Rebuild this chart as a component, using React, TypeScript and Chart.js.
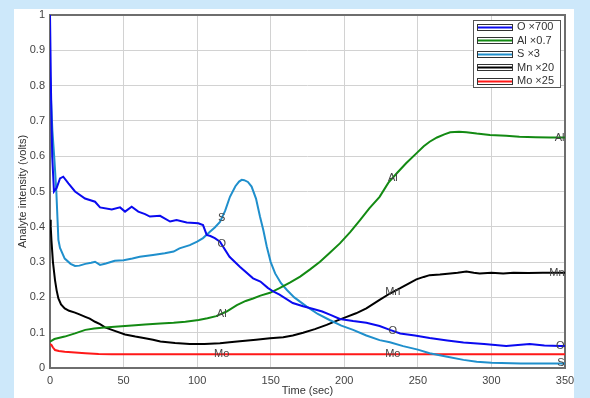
import React, { useEffect, useRef } from "react";
import { Chart, registerables } from "chart.js";

Chart.register(...registerables);

const FONT = "'Liberation Sans', Arial, Helvetica, sans-serif";

// ---- data (time in sec, intensity in volts) ----
const oTime = [0, 0.7, 1.5, 2.7, 4.5, 6.8, 9, 12.5, 17, 23.8, 30.6, 34, 42, 47.6, 51, 55.5, 60, 64.6, 67.9, 74.8, 81.6, 86, 92.9, 100.8, 104, 106.5, 109, 112, 115.5, 122, 129, 138, 143, 148, 152, 156, 165, 172, 179, 185, 191, 197, 206, 215, 224, 231, 238, 248, 258, 270, 281, 295, 310, 318, 326, 336, 347, 350];
const oValues = [1.0, 0.78, 0.6, 0.5, 0.51, 0.537, 0.542, 0.523, 0.5, 0.48, 0.471, 0.455, 0.449, 0.455, 0.443, 0.457, 0.443, 0.436, 0.429, 0.431, 0.415, 0.419, 0.412, 0.41, 0.405, 0.377, 0.374, 0.368, 0.358, 0.315, 0.287, 0.254, 0.245, 0.227, 0.216, 0.208, 0.184, 0.175, 0.167, 0.16, 0.15, 0.139, 0.133, 0.128, 0.119, 0.108, 0.098, 0.092, 0.085, 0.078, 0.072, 0.068, 0.062, 0.065, 0.068, 0.064, 0.062, 0.062];

const alTime = [0, 3, 10, 17, 24, 30, 37, 44, 51, 58, 64.6, 75, 84, 92, 101, 107, 113, 120, 127, 133, 138, 143, 149.5, 156, 163, 170, 177, 183.5, 190, 197, 204, 210.7, 217, 224, 230, 236, 242, 249, 254, 258, 263, 268, 272, 278, 283, 290, 299, 310, 319, 330, 340, 347, 350];
const alValues = [0.075, 0.082, 0.089, 0.098, 0.108, 0.112, 0.115, 0.117, 0.119, 0.121, 0.123, 0.126, 0.128, 0.131, 0.136, 0.141, 0.147, 0.16, 0.178, 0.19, 0.197, 0.205, 0.213, 0.226, 0.242, 0.259, 0.28, 0.301, 0.326, 0.353, 0.385, 0.419, 0.452, 0.485, 0.525, 0.553, 0.58, 0.608, 0.628, 0.641, 0.653, 0.662, 0.668, 0.669, 0.668, 0.664, 0.66, 0.658, 0.655, 0.654, 0.653, 0.653, 0.653];

const sTime = [0, 0.8, 1.6, 3, 4.3, 5.7, 6.8, 10, 14, 17, 20, 24, 28, 30.6, 34, 38, 44, 50, 56, 61, 70, 78, 84, 88, 95, 100, 104, 108.7, 112, 115.5, 119, 122.3, 126, 128.5, 130.3, 132, 134.5, 137, 140, 142.7, 145, 147.3, 150, 153, 157, 161, 166, 174.5, 182, 190, 198, 206, 215, 224, 231, 240, 250, 258, 270, 281, 290, 300, 320, 347, 350];
const sValues = [0.83, 0.75, 0.674, 0.59, 0.5, 0.363, 0.34, 0.31, 0.295, 0.289, 0.29, 0.295, 0.298, 0.301, 0.292, 0.296, 0.304, 0.305, 0.31, 0.315, 0.32, 0.325, 0.33, 0.339, 0.348, 0.358, 0.368, 0.386, 0.398, 0.414, 0.445, 0.485, 0.515, 0.528, 0.533, 0.532, 0.527, 0.514, 0.48, 0.429, 0.39, 0.344, 0.3, 0.268, 0.24, 0.221, 0.2, 0.174, 0.153, 0.136, 0.12, 0.108, 0.092, 0.079, 0.073, 0.062, 0.052, 0.042, 0.032, 0.023, 0.018, 0.015, 0.013, 0.013, 0.013];

const mnTime = [0, 0.5, 1, 2, 3.4, 4.5, 5.7, 7.5, 10, 13, 17, 20, 24, 27, 30.6, 34, 37.4, 44, 51, 58, 64.6, 70, 75, 85, 95, 105, 115.5, 122, 129, 140, 149.5, 158.5, 165, 172, 180, 188, 195, 201.6, 208, 215, 224, 231, 238, 244, 249, 254, 258, 265, 272, 277, 283, 288, 292, 300, 308, 315, 325, 335, 347, 350];
const mnValues = [0.42, 0.4, 0.36, 0.3, 0.249, 0.22, 0.197, 0.18, 0.169, 0.162, 0.157, 0.152, 0.145, 0.14, 0.131, 0.124, 0.115, 0.105, 0.095, 0.089, 0.084, 0.08, 0.075, 0.071, 0.068, 0.068, 0.07, 0.073, 0.076, 0.08, 0.084, 0.087, 0.092, 0.1, 0.11, 0.122, 0.134, 0.145, 0.155, 0.169, 0.193, 0.211, 0.226, 0.24, 0.251, 0.258, 0.263, 0.265, 0.268, 0.27, 0.273, 0.27, 0.268, 0.27, 0.268, 0.27, 0.269, 0.27, 0.27, 0.27];

const moTime = [0, 1, 2, 3.4, 6, 10, 17, 24, 33, 42, 60, 100, 150, 200, 250, 300, 350];
const moValues = [0.068, 0.065, 0.058, 0.051, 0.048, 0.046, 0.044, 0.042, 0.04, 0.039, 0.039, 0.039, 0.039, 0.039, 0.039, 0.039, 0.039];

const seriesKeys = ["O", "Al", "S", "Mn", "Mo"];
const seriesLegend = ["O ×700", "Al ×0.7", "S ×3", "Mn ×20", "Mo ×25"];
const seriesColors = ["#0a0af0", "#138a13", "#1f8fcc", "#000000", "#ff1818"];
const seriesTimes = [oTime, alTime, sTime, mnTime, moTime];
const seriesValues = [oValues, alValues, sValues, mnValues, moValues];

// inline curve labels: which series, at which time
const labelSeries = ["O", "S", "Al", "Mo", "Al", "Mn", "O", "Mo", "Al", "Mn", "O", "S"];
const labelTimes = [116.7, 116.7, 116.7, 116.7, 233, 233, 233, 233, 350, 350, 350, 350];

const xMin = 0, xMax = 350, xStep = 50;
const yMin = 0, yMax = 1, yStep = 0.1;
const xTitle = "Time (sec)";
const yTitle = "Analyte intensity (volts)";

function interp(ts: number[], vs: number[], t: number) {
  if (t <= ts[0]) return vs[0];
  for (let i = 1; i < ts.length; i++) {
    if (t <= ts[i]) {
      const f = (t - ts[i - 1]) / (ts[i] - ts[i - 1]);
      return vs[i - 1] + f * (vs[i] - vs[i - 1]);
    }
  }
  return vs[vs.length - 1];
}

const framePlugin = {
  id: "frame",
  beforeDatasetsDraw(chart: any) {
    const { ctx, chartArea: a } = chart;
    ctx.save();
    ctx.strokeStyle = "#6e6e6e";
    ctx.lineWidth = 2;
    ctx.strokeRect(a.left, a.top, a.right - a.left, a.bottom - a.top);
    ctx.restore();
  },
};

const curveLabelPlugin = {
  id: "curveLabels",
  afterDatasetsDraw(chart: any) {
    const { ctx, chartArea: a } = chart;
    const xs = chart.scales.x, ys = chart.scales.y;
    ctx.save();
    ctx.font = `11px ${FONT}`;
    ctx.fillStyle = "#444";
    ctx.textBaseline = "middle";
    labelSeries.forEach((key, i) => {
      const si = seriesKeys.indexOf(key);
      const t = labelTimes[i];
      const v = interp(seriesTimes[si], seriesValues[si], t);
      let px = xs.getPixelForValue(t);
      const py = ys.getPixelForValue(v);
      if (t >= xMax) {
        ctx.textAlign = "right";
        px = a.right - 0.5;
      } else {
        ctx.textAlign = "center";
      }
      ctx.fillText(key, px, py);
    });
    ctx.restore();
  },
};

const legendPlugin = {
  id: "boxLegend",
  afterDraw(chart: any) {
    const { ctx } = chart;
    const bx = 459, by = 11, bw = 87, bh = 67;
    ctx.save();
    ctx.fillStyle = "#fff";
    ctx.fillRect(bx, by, bw, bh);
    ctx.strokeStyle = "#555";
    ctx.lineWidth = 1;
    ctx.strokeRect(bx + 0.5, by + 0.5, bw, bh);
    ctx.font = `11px ${FONT}`;
    ctx.textBaseline = "middle";
    ctx.textAlign = "left";
    seriesLegend.forEach((name, i) => {
      const cy = by + 6.5 + i * 13.5;
      ctx.strokeStyle = "#333";
      ctx.lineWidth = 1;
      ctx.strokeRect(463.5, Math.round(cy) - 3 + 0.5, 35, 6);
      ctx.strokeStyle = seriesColors[i];
      ctx.lineWidth = 2;
      ctx.beginPath();
      ctx.moveTo(464, Math.round(cy) + 0.5);
      ctx.lineTo(498, Math.round(cy) + 0.5);
      ctx.stroke();
      ctx.fillStyle = "#333";
      ctx.fillText(name, 503, cy + 0.5);
    });
    ctx.restore();
  },
};

function ChartView() {
  const ref = useRef<HTMLCanvasElement | null>(null);
  useEffect(() => {
    if (!ref.current) return;
    const datasets = seriesKeys.map((k, i) => ({
      label: seriesLegend[i],
      data: seriesTimes[i].map((t, j) => ({ x: t, y: seriesValues[i][j] })),
      borderColor: seriesColors[i],
      backgroundColor: seriesColors[i],
      borderWidth: 2,
      pointRadius: 0,
      tension: 0,
      fill: false,
    }));
    const chart = new Chart(ref.current, {
      type: "line",
      data: { datasets },
      plugins: [framePlugin, curveLabelPlugin, legendPlugin],
      options: {
        responsive: false,
        animation: false,
        devicePixelRatio: 1,
        layout: { padding: { left: 0, right: 9, top: 6, bottom: 0 } },
        plugins: { legend: { display: false }, tooltip: { enabled: false } },
        scales: {
          x: {
            type: "linear",
            min: xMin,
            max: xMax,
            afterFit: (s: any) => { s.height = 30; s.paddingLeft = 0; s.paddingRight = 0; },
            ticks: {
              stepSize: xStep,
              padding: 6,
              color: "#444",
              font: { family: FONT, size: 11 },
              maxRotation: 0,
            },
            grid: { color: "#d2d2d2", lineWidth: 1, drawTicks: false },
            border: { display: false },
            title: {
              display: true,
              text: xTitle,
              color: "#333",
              font: { family: FONT, size: 11 },
              padding: { top: 0, bottom: 0 },
            },
          },
          y: {
            type: "linear",
            min: yMin,
            max: yMax,
            afterFit: (s: any) => { s.width = 36; s.paddingTop = 0; s.paddingBottom = 0; },
            ticks: {
              stepSize: yStep,
              padding: 5,
              color: "#444",
              font: { family: FONT, size: 11 },
              callback: (v: any) => String(Number(Number(v).toFixed(1))),
            },
            grid: { color: "#d2d2d2", lineWidth: 1, drawTicks: false },
            border: { display: false },
            title: {
              display: true,
              text: yTitle,
              color: "#333",
              font: { family: FONT, size: 11 },
              padding: { top: 2, bottom: 0 },
            },
          },
        },
      },
    } as any);
    return () => chart.destroy();
  }, []);
  return <canvas ref={ref} width={560} height={389} style={{ width: 560, height: 389, display: "block" }} />;
}

export default function App() {
  return (
    <div style={{ position: "fixed", left: 0, top: 0, width: 590, height: 398, background: "#cde8fa", overflow: "hidden" }}>
      <div style={{ position: "absolute", left: 14, top: 9, width: 560, height: 389, background: "#ffffff" }}>
        <ChartView />
      </div>
    </div>
  );
}
